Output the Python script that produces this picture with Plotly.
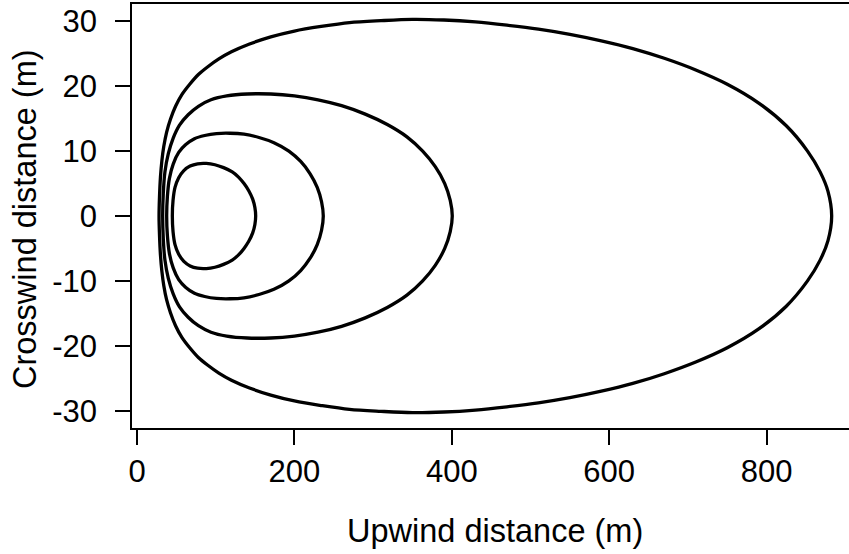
import plotly.graph_objects as go

# Upper half of each closed contour (upwind x in m, crosswind y in m),
# listed from the upwind-near edge to the far edge; the lower half is the mirror image.
contour_1_x = [28, 28.6, 29.8, 31.6, 34.0, 37.6, 42.5, 49, 57, 67, 78, 90, 104, 120, 143, 170, 200,
               234, 270, 310, 350, 390, 430, 470, 510, 550, 590, 630, 670, 710, 750, 790, 825, 852,
               868, 878, 882.7]
contour_1_y = [0, 3.0, 6.0, 8.5, 10.7, 12.9, 14.9, 16.9, 18.7, 20.3, 21.8, 23.0, 24.2, 25.3, 26.5,
               27.6, 28.5, 29.2, 29.8, 30.1, 30.3, 30.2, 29.9, 29.4, 28.8, 28.0, 27.0, 25.8, 24.3,
               22.5, 20.3, 17.4, 13.9, 10.0, 6.8, 3.8, 0]

contour_2_x = [32.6, 33.4, 35.5, 39.8, 46, 54, 65, 78, 94, 114, 140, 170, 200, 230, 260, 290, 318,
               343, 363, 379, 391, 398, 400.6]
contour_2_y = [0, 3.5, 6.8, 9.6, 12.0, 14.0, 15.6, 16.9, 17.9, 18.5, 18.8, 18.8, 18.5, 17.9, 17.0,
               15.7, 14.1, 12.2, 10.0, 7.6, 5.0, 2.4, 0]

contour_3_x = [37.7, 38.6, 41.2, 46, 53, 62, 73, 86, 101, 118, 136, 155, 174, 193, 208, 220, 229,
               234.5, 236.7]
contour_3_y = [0, 3.0, 5.8, 8.0, 9.8, 11.0, 11.9, 12.4, 12.7, 12.75, 12.6, 12.1, 11.3, 10.0, 8.4,
               6.5, 4.4, 2.2, 0]

contour_4_x = [44.9, 45.8, 48.3, 53, 59.5, 67.5, 77, 88, 99, 110, 121, 129, 136, 142, 147, 149.8,
               150.8]
contour_4_y = [0, 2.4, 4.4, 5.9, 7.0, 7.7, 8.05, 8.1, 7.9, 7.45, 6.8, 6.0, 5.0, 3.9, 2.6, 1.3, 0]

x_ticks = [0, 200, 400, 600, 800]
y_ticks = [-30, -20, -10, 0, 10, 20, 30]

contours = [(contour_1_x, contour_1_y), (contour_2_x, contour_2_y),
            (contour_3_x, contour_3_y), (contour_4_x, contour_4_y)]

FONT = "Liberation Sans, Arial, sans-serif"
fig = go.Figure()

for cx, cy in contours:
    # full loop: upper half left->right, then lower half right->left
    loop_x = cx + cx[-2:0:-1]
    loop_y = cy + [-v for v in cy[-2:0:-1]]
    # start and finish the loop at the flat top so the spline has no visible seam
    k = loop_y.index(max(loop_y))
    loop_x = loop_x[k:] + loop_x[:k] + [loop_x[k]]
    loop_y = loop_y[k:] + loop_y[:k] + [loop_y[k]]
    fig.add_trace(go.Scatter(
        x=loop_x, y=loop_y,
        mode="lines", line=dict(color="black", width=3.3, shape="spline", smoothing=0.9),
        hoverinfo="skip", showlegend=False,
    ))

W, H = 849, 554
L, R, T, B = 132, 0, 4, 126
px_per_x = 0.787
px_per_y = 6.49
x0_px, y0_px = 137, 216

x_range = [(L - x0_px) / px_per_x, (W - R - x0_px) / px_per_x]
y_range = [(y0_px - (H - B)) / px_per_y, (y0_px - T) / px_per_y]

axis_common = dict(
    showgrid=False, zeroline=False, showline=True, linecolor="black", linewidth=1.5,
    ticks="outside", ticklen=15, tickwidth=1.5, tickcolor="black",
    tickfont=dict(family=FONT, size=31, color="black"),
)

fig.update_xaxes(range=x_range, tickvals=x_ticks, ticktext=[str(v) for v in x_ticks],
                 mirror=True, ticklabelstandoff=0, **axis_common)
fig.update_yaxes(range=y_range, tickvals=y_ticks, ticktext=[str(v) for v in y_ticks],
                 ticklabelstandoff=12, **axis_common)

pw, ph = W - L - R, H - T - B
fig.add_annotation(text="Upwind distance (m)", xref="paper", yref="paper",
                   x=(494.5 - L) / pw, y=((H - B) - 531) / ph, xanchor="center", yanchor="middle",
                   showarrow=False, font=dict(family=FONT, size=32.5, color="black"))
fig.add_annotation(text="Crosswind distance (m)", xref="paper", yref="paper",
                   x=(25 - L) / pw, y=((H - B) - 219) / ph, xanchor="center", yanchor="middle",
                   textangle=-90, showarrow=False, font=dict(family=FONT, size=32.5, color="black"))

fig.update_layout(
    width=W, height=H, margin=dict(l=L, r=R, t=T, b=B, pad=0),
    paper_bgcolor="white", plot_bgcolor="white",
)

fig.write_html("out.html")
